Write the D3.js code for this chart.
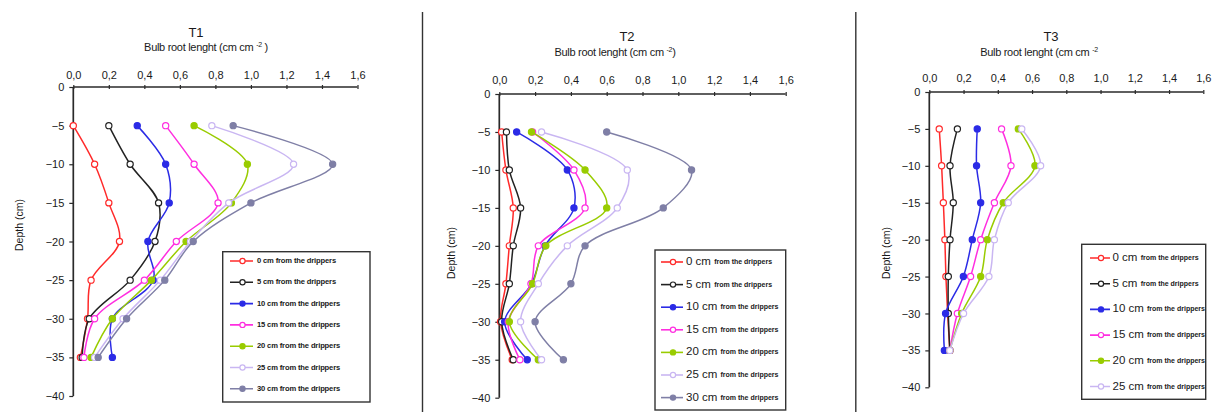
<!DOCTYPE html>
<html>
<head>
<meta charset="utf-8">
<script src="https://cdn.jsdelivr.net/npm/d3@7"></script>
<style>
  html, body { margin: 0; padding: 0; background: #fff; }
  svg { display: block; font-family: "Liberation Sans", Arial, sans-serif; }
</style>
</head>
<body>
<svg id="chart" width="1221" height="412"></svg>
<script>
// Sampling depths (cm) and tick values
const depths = [-5, -10, -15, -20, -25, -30, -35];
const xTicks = [0, 0.2, 0.4, 0.6, 0.8, 1.0, 1.2, 1.4, 1.6];
const yTicks = [0, -5, -10, -15, -20, -25, -30, -35, -40];

// Distance of each profile from the drippers
const distances = ["0", "5", "10", "15", "20", "25", "30"];
const seriesColors = ["#ff2a2a", "#222222", "#2b2be6", "#ff2ee0", "#99cc00", "#c9b6f2", "#7f7fa6"];
const seriesFilled = [false, false, true, false, true, false, true];

// T1 — bulb root length (cm cm-2) by depth
const t1_0cm  = [0.00, 0.12, 0.20, 0.26, 0.10, 0.08, 0.04];
const t1_5cm  = [0.20, 0.32, 0.48, 0.46, 0.32, 0.09, 0.05];
const t1_10cm = [0.36, 0.52, 0.54, 0.42, 0.45, 0.22, 0.22];
const t1_15cm = [0.52, 0.68, 0.815, 0.58, 0.40, 0.12, 0.06];
const t1_20cm = [0.68, 0.98, 0.89, 0.635, 0.44, 0.22, 0.10];
const t1_25cm = [0.78, 1.24, 0.875, 0.66, 0.49, 0.28, 0.12];
const t1_30cm = [0.90, 1.46, 1.00, 0.675, 0.515, 0.30, 0.14];

// T2
const t2_0cm  = [0.013, 0.037, 0.078, 0.056, 0.037, 0.007, 0.072];
const t2_5cm  = [0.04, 0.056, 0.119, 0.078, 0.056, 0.013, 0.078];
const t2_10cm = [0.097, 0.38, 0.417, 0.255, 0.18, 0.03, 0.156];
const t2_15cm = [0.186, 0.417, 0.479, 0.218, 0.177, 0.05, 0.115];
const t2_20cm = [0.18, 0.479, 0.60, 0.26, 0.186, 0.056, 0.218];
const t2_25cm = [0.236, 0.715, 0.659, 0.38, 0.218, 0.119, 0.236];
const t2_30cm = [0.60, 1.074, 0.916, 0.479, 0.40, 0.20, 0.358];

// T3
const t3_0cm  = [0.058, 0.072, 0.082, 0.091, 0.097, 0.107, 0.12];
const t3_5cm  = [0.164, 0.121, 0.14, 0.121, 0.111, 0.111, 0.12];
const t3_10cm = [0.28, 0.276, 0.30, 0.251, 0.199, 0.095, 0.088];
const t3_15cm = [0.422, 0.477, 0.38, 0.30, 0.241, 0.164, 0.12];
const t3_20cm = [0.52, 0.617, 0.432, 0.339, 0.30, 0.189, 0.12];
const t3_25cm = [0.54, 0.65, 0.461, 0.38, 0.348, 0.20, 0.12];

const panels = [
  { title: "T1", unitsGap: "  ", series: [t1_0cm, t1_5cm, t1_10cm, t1_15cm, t1_20cm, t1_25cm, t1_30cm],
    x0: 73.3, x1: 357.5, y0: 87, y1: 396, titleY: 37, subY: 51, titleX: 196, subX: 206, tickY: 75,
    depthX: 20, depthY: 225, legend: { x: 222.7, y: 251.7, w: 147.3, h: 150.3, first: 261, step: 21.3, lx: 230, lw: 23, tx: 257, split: false } },
  { title: "T2", unitsGap: " ", series: [t2_0cm, t2_5cm, t2_10cm, t2_15cm, t2_20cm, t2_25cm, t2_30cm],
    x0: 499.3, x1: 785.7, y0: 94, y1: 397.7, titleY: 40.5, subY: 56, titleX: 627, subX: 615, tickY: 80,
    depthX: 452, depthY: 253, legend: { x: 655, y: 250, w: 130.7, h: 160, first: 262, step: 22.6, lx: 661, lw: 22, tx: 686, split: true } },
  { title: "T3", unitsGap: " ", series: [t3_0cm, t3_5cm, t3_10cm, t3_15cm, t3_20cm, t3_25cm],
    x0: 929.3, x1: 1203.3, y0: 92, y1: 387.3, titleY: 40.5, subY: 56, titleX: 1051, subX: 1039, tickY: 78,
    depthX: 887, depthY: 253, legend: { x: 1081.7, y: 244.3, w: 124, h: 155, first: 258, step: 25.7, lx: 1090, lw: 20, tx: 1112.5, split: true } }
];

const svg = d3.select("#chart");
const axisColor = "#2a2a2a";
const textColor = "#1a1a1a";

// Dividers between the three panels
[422.5, 855.8].forEach(x => {
  svg.append("line").attr("x1", x).attr("x2", x).attr("y1", 12).attr("y2", 412)
    .attr("stroke", "#333").attr("stroke-width", 1.4);
});

const fmt = v => d3.format(".1f")(v).replace(".", ",");

panels.forEach((p, pi) => {
  const x = d3.scaleLinear().domain([0, 1.6]).range([p.x0, p.x1]);
  const y = d3.scaleLinear().domain([0, -40]).range([p.y0, p.y1]);
  const g = svg.append("g");

  // Titles
  g.append("text").attr("x", p.titleX).attr("y", p.titleY).attr("text-anchor", "middle")
    .attr("font-size", 13).attr("fill", textColor).text(p.title);
  const sub = g.append("text").attr("x", p.subX).attr("y", p.subY).attr("text-anchor", "middle")
    .attr("font-size", 11).attr("fill", textColor).attr("letter-spacing", -0.3);
  sub.append("tspan").text("Bulb root lenght" + p.unitsGap + "(cm cm ");
  sub.append("tspan").attr("dy", -4).attr("font-size", 7).text("-2");
  sub.append("tspan").attr("dy", 4).text(pi === 2 ? "" : (pi === 0 ? " )" : ")"));

  // Top x axis (value axis)
  const xAxis = d3.axisTop(x).tickValues(xTicks).tickFormat(fmt).tickSize(3).tickPadding(0);
  const xg = g.append("g").attr("transform", `translate(0,${p.y0})`).call(xAxis);
  xg.select(".domain").attr("stroke", axisColor).attr("stroke-width", 1.7);
  xg.selectAll(".tick line").attr("stroke", axisColor).attr("stroke-width", 1.2).attr("y2", -2).attr("y1", 2);
  xg.selectAll(".tick text").attr("font-size", 11).attr("fill", textColor)
    .attr("y", p.tickY - p.y0 + 4).attr("font-family", "Liberation Sans, Arial, sans-serif");

  // Left depth axis
  const yAxis = d3.axisLeft(y).tickValues(yTicks).tickFormat(d3.format("d")).tickSize(4).tickPadding(5);
  const yg = g.append("g").attr("transform", `translate(${p.x0},0)`).call(yAxis);
  yg.select(".domain").attr("stroke", axisColor).attr("stroke-width", 1.7);
  yg.selectAll(".tick line").attr("stroke", axisColor).attr("stroke-width", 1.2);
  yg.selectAll(".tick text").attr("font-size", 11).attr("fill", textColor)
    .attr("font-family", "Liberation Sans, Arial, sans-serif");
  xg.selectAll("path.domain").attr("d", `M${p.x0},0H${p.x1}`);
  yg.selectAll("path.domain").attr("d", `M0,${p.y0}V${p.y1}`);

  g.append("text").attr("transform", `translate(${p.depthX},${p.depthY}) rotate(-90)`)
    .attr("text-anchor", "middle").attr("dominant-baseline", "middle")
    .attr("font-size", 10.5).attr("fill", textColor).text("Depth (cm)");

  // Profiles
  const line = d3.line().x(d => x(d[0])).y(d => y(d[1])).curve(d3.curveCatmullRom.alpha(0.5));
  p.series.forEach((vals, si) => {
    const pts = vals.map((v, i) => [v, depths[i]]);
    const c = seriesColors[si];
    g.append("path").attr("d", line(pts)).attr("fill", "none")
      .attr("stroke", c).attr("stroke-width", 1.5);
    g.selectAll(null).data(pts).enter().append("circle")
      .attr("cx", d => x(d[0])).attr("cy", d => y(d[1])).attr("r", 3.1)
      .attr("fill", seriesFilled[si] ? c : "#fff").attr("stroke", c).attr("stroke-width", 1.2);
  });

  // Legend box
  const L = p.legend;
  const clipId = "legclip" + pi;
  svg.append("clipPath").attr("id", clipId).append("rect")
    .attr("x", L.x).attr("y", L.y).attr("width", L.w).attr("height", L.h);
  g.append("rect").attr("x", L.x).attr("y", L.y).attr("width", L.w).attr("height", L.h)
    .attr("fill", "#fff").attr("stroke", "#333").attr("stroke-width", 1.4);
  const lg = g.append("g").attr("clip-path", `url(#${clipId})`);
  p.series.forEach((vals, si) => {
    const cy = L.first + si * L.step;
    const c = seriesColors[si];
    lg.append("line").attr("x1", L.lx).attr("x2", L.lx + L.lw).attr("y1", cy).attr("y2", cy)
      .attr("stroke", c).attr("stroke-width", 1.6);
    lg.append("circle").attr("cx", L.lx + L.lw / 2 + 1).attr("cy", cy).attr("r", 2.6)
      .attr("fill", seriesFilled[si] ? c : "#fff").attr("stroke", c).attr("stroke-width", 1.2);
    const t = lg.append("text").attr("x", L.tx).attr("y", cy).attr("dominant-baseline", "middle")
      .attr("fill", textColor);
    if (L.split) {
      t.append("tspan").attr("font-size", 11.5).text(distances[si] + " cm ");
      t.append("tspan").attr("font-size", 7).attr("font-weight", "bold").text("from the drippers");
    } else {
      t.attr("font-size", 7.6).attr("font-weight", "bold").attr("letter-spacing", -0.15)
        .text(distances[si] + " cm from the drippers");
    }
  });
});
</script>
</body>
</html>
